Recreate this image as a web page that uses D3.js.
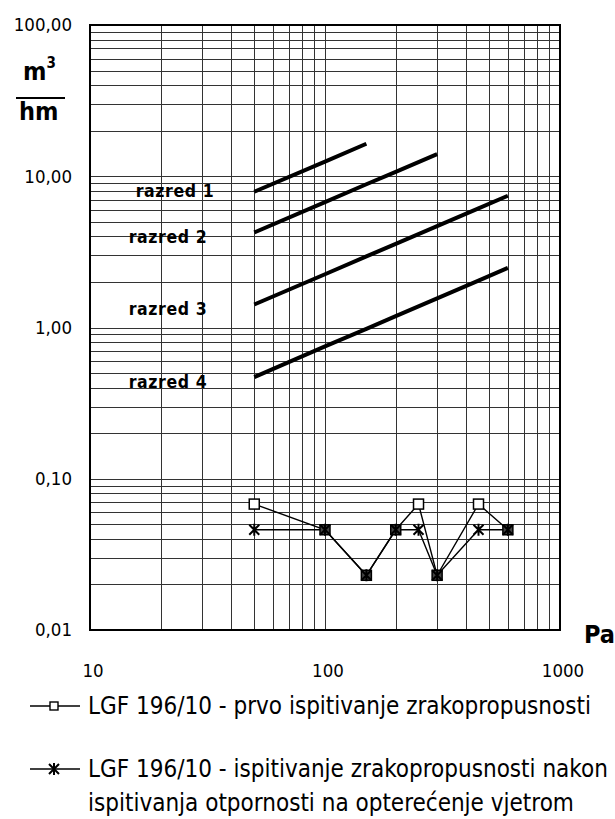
<!DOCTYPE html>
<html>
<head>
<meta charset="utf-8">
<script src="https://cdn.jsdelivr.net/npm/d3@7"></script>
<style>
  body { margin: 0; background: #fff; }
  text { font-family: "DejaVu Sans Condensed", "DejaVu Sans", sans-serif; fill: #000; }
</style>
</head>
<body>
<svg id="chart"></svg>
<script>
// pressure steps (Pa) of the test and measured leakage (m3/hm)
const pressures = [50, 100, 150, 200, 250, 300, 450, 600];
const firstTest = [0.068, 0.046, 0.023, 0.046, 0.068, 0.023, 0.068, 0.046];
const afterWind = [0.046, 0.046, 0.023, 0.046, 0.046, 0.023, 0.046, 0.046];

// class limit lines (razred 1..4)
const classNames = ["razred 1", "razred 2", "razred 3", "razred 4"];
const classPressures = [
  [50, 100, 150],
  [50, 100, 150, 200, 300],
  [50, 100, 150, 200, 300, 450, 600],
  [50, 100, 150, 200, 300, 450, 600]
];
const classValues = [
  [7.9, 12.5, 16.4],
  [4.25, 6.75, 8.85, 10.7, 14.0],
  [1.42, 2.25, 2.95, 3.57, 4.68, 6.13, 7.43],
  [0.47, 0.75, 0.98, 1.19, 1.56, 2.04, 2.48]
];

const yTicks = [0.01, 0.1, 1, 10, 100];
const yTickLabels = ["0,01", "0,10", "1,00", "10,00", "100,00"];
const xTicks = [10, 100, 1000];
const xTickLabels = ["10", "100", "1000"];
const legendLabels = [
  ["LGF 196/10 - prvo ispitivanje zrakopropusnosti"],
  ["LGF 196/10 - ispitivanje zrakopropusnosti nakon", "ispitivanja otpornosti na opterećenje vjetrom"]
];

const width = 615, height = 819;
const margin = {top: 25, right: 55, bottom: 189, left: 90};

const svg = d3.select("#chart").attr("width", width).attr("height", height);

const x = d3.scaleLog().domain([10, 1000]).range([margin.left, width - margin.right]);
const y = d3.scaleLog().domain([0.01, 100]).range([height - margin.bottom, margin.top]);

// minor + major grid values (1..9 per decade)
const gridX = [], gridY = [];
for (let d = 10; d < 1000; d *= 10) for (let k = 1; k < 10; k++) gridX.push(d * k);
for (let d = 0.01; d < 99; d *= 10) for (let k = 1; k < 10; k++) gridY.push(+(d * k).toPrecision(3));

const grid = svg.append("g").attr("stroke", "#333").attr("stroke-width", 1).attr("shape-rendering", "crispEdges");
grid.selectAll(".gx").data(gridX).enter().append("line")
  .attr("x1", d => Math.round(x(d)) + 0.5).attr("x2", d => Math.round(x(d)) + 0.5)
  .attr("y1", y(0.01)).attr("y2", y(100));
grid.selectAll(".gy").data(gridY).enter().append("line")
  .attr("x1", x(10)).attr("x2", x(1000))
  .attr("y1", d => Math.round(y(d)) + 0.5).attr("y2", d => Math.round(y(d)) + 0.5);

// frame
svg.append("rect")
  .attr("x", x(10)).attr("y", y(100))
  .attr("width", x(1000) - x(10)).attr("height", y(0.01) - y(100))
  .attr("fill", "none").attr("stroke", "#000").attr("stroke-width", 2);

// y tick labels
svg.append("g").selectAll("text").data(yTicks).enter().append("text")
  .attr("x", x(10) - 18).attr("y", d => y(d))
  .attr("dy", "0.35em").attr("text-anchor", "end")
  .attr("font-size", 18.5)
  .text((d, i) => yTickLabels[i]);

// x tick labels
svg.append("g").selectAll("text").data(xTicks).enter().append("text")
  .attr("x", d => x(d) + 3)
  .attr("y", y(0.01) + 47)
  .attr("text-anchor", "middle")
  .attr("font-size", 18.5)
  .text((d, i) => xTickLabels[i]);

// unit labels
const unit = svg.append("g").attr("font-weight", "bold");
unit.append("text").attr("x", 23).attr("y", 80).attr("font-size", 25).text("m")
  .append("tspan").attr("font-size", 15).attr("dy", -12).text("3");
unit.append("line").attr("x1", 16).attr("x2", 65).attr("y1", 98).attr("y2", 98)
  .attr("stroke", "#000").attr("stroke-width", 2);
unit.append("text").attr("x", 19).attr("y", 120).attr("font-size", 25).text("hm");
unit.append("text").attr("x", 584).attr("y", 643).attr("font-size", 25).text("Pa");

// class lines
const line = d3.line().x(d => x(d[0])).y(d => y(d[1]));
classNames.forEach((name, i) => {
  const pts = classPressures[i].map((p, j) => [p, classValues[i][j]]);
  svg.append("path").attr("d", line(pts))
    .attr("fill", "none").attr("stroke", "#000").attr("stroke-width", 4);
  svg.append("text")
    .attr("x", x(classPressures[i][0]) - (i === 0 ? 40 : 47))
    .attr("y", y(classValues[i][0]) + (i === 0 ? 5 : 11))
    .attr("text-anchor", "end")
    .attr("font-size", 17.5).attr("font-weight", "bold").attr("letter-spacing", 0.6)
    .text(name);
});

// markers
function square(g, cx, cy, fill) {
  g.append("rect").attr("x", cx - 5).attr("y", cy - 5).attr("width", 10).attr("height", 10)
    .attr("fill", fill).attr("stroke", "#000").attr("stroke-width", 1.5);
}
function star(g, cx, cy) {
  g.append("path")
    .attr("d", `M${cx - 5},${cy - 5}L${cx + 5},${cy + 5}M${cx - 5},${cy + 5}L${cx + 5},${cy - 5}M${cx},${cy - 6}L${cx},${cy + 6}`)
    .attr("stroke", "#000").attr("stroke-width", 2).attr("fill", "none");
}

const s1 = pressures.map((p, i) => [p, firstTest[i]]);
const s2 = pressures.map((p, i) => [p, afterWind[i]]);

svg.append("path").attr("d", line(s1)).attr("fill", "none").attr("stroke", "#000").attr("stroke-width", 1.4);
svg.append("path").attr("d", line(s2)).attr("fill", "none").attr("stroke", "#000").attr("stroke-width", 1.4);

const mk = svg.append("g");
s1.forEach((d, i) => {
  const overlap = firstTest[i] === afterWind[i];
  square(mk, x(d[0]), y(d[1]), overlap ? "#444" : "#fff");
});
s2.forEach(d => star(mk, x(d[0]), y(d[1])));

// legend
const leg = svg.append("g");
const legY = [706, 769];
legendLabels.forEach((lines, i) => {
  leg.append("line").attr("x1", 30).attr("x2", 80).attr("y1", legY[i]).attr("y2", legY[i])
    .attr("stroke", "#000").attr("stroke-width", 1.6);
  if (i === 0) {
    leg.append("rect").attr("x", 50).attr("y", legY[i] - 4).attr("width", 8).attr("height", 8)
      .attr("fill", "#fff").attr("stroke", "#000").attr("stroke-width", 1.4);
  } else {
    star(leg, 54, legY[i]);
  }
  lines.forEach((t, j) => {
    leg.append("text").attr("x", 88).attr("y", legY[i] + 8 + j * 34)
      .attr("font-size", 24).text(t);
  });
});
</script>
</body>
</html>
